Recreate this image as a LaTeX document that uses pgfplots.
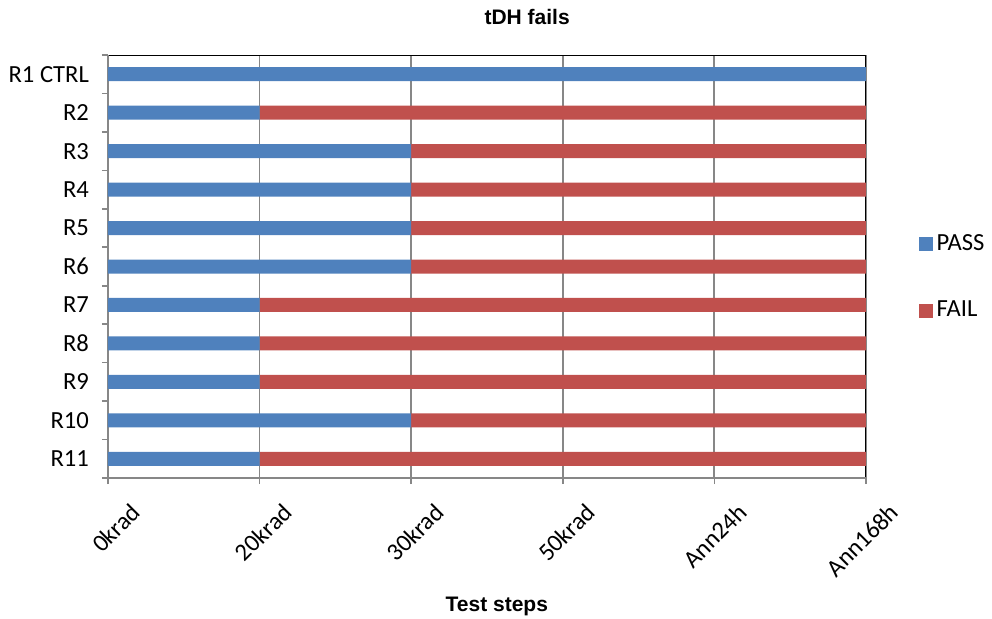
\documentclass[border=0pt]{standalone}
\usepackage{fontspec}
\setmainfont{Carlito}
\newfontfamily\arialf{Liberation Sans}
\usepackage{pgfplots}
\usepackage{pgfplotstable}
\pgfplotsset{compat=1.18}
\definecolor{passblue}{HTML}{4F81BD}
\definecolor{failred}{HTML}{C0504D}
\definecolor{axgray}{HTML}{878787}
\pgfplotstableread{
y pass fail
0 5 0
1 1 4
2 2 3
3 2 3
4 2 3
5 2 3
6 1 4
7 1 4
8 1 4
9 2 3
10 1 4
}\data
\begin{document}
\begin{tikzpicture}
\useasboundingbox (-54pt,-70pt) rectangle (442pt,239pt);
\begin{axis}[
  at={(0,0)}, anchor=south west,
  scale only axis, width=379pt, height=211.5pt,
  xbar stacked, bar width=7pt,
  xmin=0, xmax=5, ymin=-0.5, ymax=10.5,
  y dir=reverse,
  xtick={0,...,5},
  xticklabels={0krad,20krad,30krad,50krad,Ann24h,Ann168h},
  ytick={0,...,10},
  yticklabels={R1 CTRL,R2,R3,R4,R5,R6,R7,R8,R9,R10,R11},
  minor ytick={-0.5,0.5,...,10.5},
  xtick pos=bottom, ytick pos=left,
  tick align=outside,
  major tick length=3pt, minor tick length=3pt,
  major y tick style={draw=none},
  minor y tick style={axgray, line width=0.8pt},
  major x tick style={axgray, line width=0.8pt},
  xmajorgrids, major grid style={axgray, line width=0.9pt},
  axis line style={draw=none},
  /pgf/number format/assume math mode=true,
  ticklabel style={font=\fontsize{12.3}{14}\selectfont},
  yticklabel style={xshift=-3pt},
  xticklabel style={xshift=11pt, yshift=-4pt, rotate=45, anchor=north east},
  title={\arialf\bfseries tDH fails},
  title style={font=\fontsize{10.5}{12}\selectfont, at={(axis description cs:0.553,1)}, anchor=base, yshift=9.5pt},
  xlabel={\arialf\bfseries Test steps},
  xlabel style={font=\fontsize{10.5}{12}\selectfont, at={(axis description cs:0.513,0)}, anchor=north, yshift=-56pt},
  legend style={draw=none, at={(axis description cs:1.069,0.475)}, anchor=west,
    font=\fontsize{12.3}{14}\selectfont, row sep=20pt, inner sep=0pt},
  legend cell align=left,
]
\addplot[fill=passblue, draw=none, legend image code/.code={\fill[passblue] (0pt,-3.5pt) rectangle (7pt,3.5pt);}] table[x=pass, y=y]{\data};
\addlegendentry{PASS}
\addplot[fill=failred, draw=none, legend image code/.code={\fill[failred] (0pt,-3.5pt) rectangle (7pt,3.5pt);}] table[x=fail, y=y]{\data};
\addlegendentry{FAIL}
\draw[axgray, line width=0.9pt] (axis cs:0,-0.5) -- (axis cs:0,10.5) -- (axis cs:5,10.5);
\draw[black, line width=0.9pt] (axis cs:0,-0.5) -- (axis cs:5,-0.5) -- (axis cs:5,10.5);
\end{axis}
\end{tikzpicture}
\end{document}
